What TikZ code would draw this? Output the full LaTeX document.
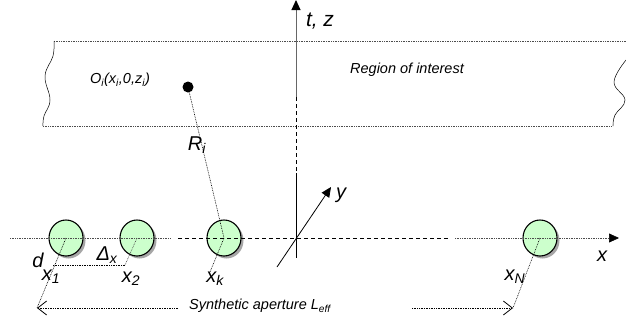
\documentclass[tikz,border=0pt]{standalone}
\usepackage{fontspec}
\setmainfont{Liberation Sans}
\usetikzlibrary{arrows.meta,shapes.geometric,shadows}
\definecolor{elemgreen}{HTML}{CCFFCC}
\begin{document}
\begin{tikzpicture}[x=1pt,y=-1pt,
  elem/.style={ellipse, draw=black, line width=1.1pt, fill=elemgreen, minimum width=34pt, minimum height=36pt, inner sep=0pt,
    drop shadow={shadow xshift=2.5pt, shadow yshift=-2.5pt, fill=black!35, opacity=1}},
  dots/.style={line width=0.6pt, dash pattern=on 0.8pt off 0.9pt},
  gdots/.style={dots, black!70},
  dsh/.style={line width=0.8pt, dash pattern=on 4pt off 3pt},
  big/.style={font=\fontsize{20}{22}\selectfont\itshape, inner sep=0pt},
  small/.style={font=\fontsize{14.5}{16}\selectfont\itshape, inner sep=0pt},
  tip/.style={-{Triangle[length=10pt,width=9pt]}},
  vtip/.style={-{Straight Barb[length=9pt,width=14pt,line width=0.8pt]}},
]
\useasboundingbox (0,0) rectangle (626,325);

% region of interest
\coordinate (rtl) at (54,41);
\coordinate (rtr) at (626,41);
\coordinate (rbl) at (43,126);
\coordinate (rbr) at (612,126);
\draw[gdots] (rtl) -- (rtr);
\draw[gdots] (rbl) -- (rbr);
\draw[line width=0.5pt] plot[smooth, tension=0.7] coordinates {(54,41) (53,56) (45,76) (50,100) (44,116) (43,126)};
\draw[line width=0.5pt] plot[smooth, tension=0.7] coordinates {(626,60) (614,82) (625,100) (615,115) (613,126)};
\node[small] (roi) at (407,70) {Region of interest};
\node[small] (olab) at (120,80) {O\textsubscript{i}(x\textsubscript{i},0,z\textsubscript{i})};
\node[circle, fill=black, minimum size=11pt, inner sep=0pt] (O) at (188,87) {};

% elements
\node[elem] (c1) at (66,238) {};
\node[elem] (c2) at (137,238) {};
\node[elem] (ck) at (224,238) {};
\node[elem] (cN) at (540,238) {};

% t,z axis
\coordinate (ttop) at (296,0);
\coordinate (tm1) at (296,97);
\coordinate (tm2) at (296,173);
\coordinate (tbot) at (296,258);
\draw[black!60, line width=1pt, arrows={-{Triangle[length=10pt,width=9pt,fill=black,color=black]}}] (tm1) -- (ttop);
\draw[dsh] (tm1) -- (tm2);
\draw[line width=1pt] (tm2) -- (tbot);
\node[big, font=\fontsize{21}{23}\selectfont\itshape] (tz) at (320,21) {t, z};

% x axis
\coordinate (xa) at (10,238);
\coordinate (xb) at (170,238);
\coordinate (xc) at (178,238);
\coordinate (xd) at (448,238);
\coordinate (xe) at (455,238);
\coordinate (xf) at (619,238);
\draw[gdots] (xa) -- (xb);
\draw[dsh] (xc) -- (xd);
\draw[gdots, arrows={-{Triangle[length=10pt,width=9pt,fill=black,color=black]}}] (xe) -- (xf);
\node[big] (xl) at (602,256) {x};

% y axis
\coordinate (ya) at (277,267);
\coordinate (yb) at (331,187);
\draw[line width=0.8pt, tip] (ya) -- (yb);
\node[big] (yl) at (341,195) {y};

% geometry lines
\coordinate (dpt) at (53,265);
\coordinate (x2pt) at (125,265);
\coordinate (lt) at (37,308);
\coordinate (rt) at (513,308);
\coordinate (xkpt) at (210,272);
\draw[dots] (c1.center) -- (lt);
\draw[dots] (dpt) -- (x2pt);
\draw[gdots] (c2.center) -- (x2pt);
\draw[dots] (O) -- (ck.center);
\draw[dots] (ck.center) -- (xkpt);
\draw[dots] (cN.center) -- (rt);

% synthetic aperture
\node[small] (syn) at (260,306) {Synthetic aperture L\textsubscript{eff}};
\coordinate (la) at (178,308);
\coordinate (ra) at (412,308);
\draw[dots, vtip] (la) -- (lt);
\draw[dots, vtip] (ra) -- (rt);

% labels
\node[big] (Ri) at (197,145) {R\textsubscript{i}};
\node[big] (dl) at (38,260) {d};
\node[big] (dx) at (107,255) {Δ\textsubscript{x}};
\node[big] (x1) at (51,277) {x\textsubscript{1}};
\node[big] (x2) at (131,279) {x\textsubscript{2}};
\node[big] (xk) at (215,279) {x\textsubscript{k}};
\node[big] (xN) at (515,277) {x\textsubscript{N}};
\end{tikzpicture}
\end{document}
